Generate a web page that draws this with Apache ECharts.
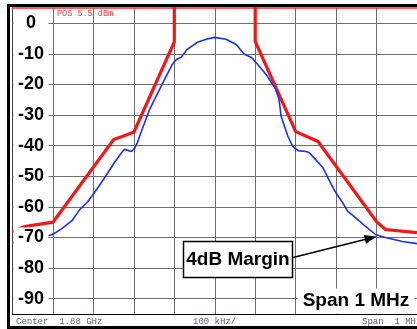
<!DOCTYPE html>
<html>
<head>
<meta charset="utf-8">
<script src="https://cdn.jsdelivr.net/npm/echarts@6/dist/echarts.min.js"></script>
<style>
  html, body { margin: 0; padding: 0; background: #fff; }
  #chart { width: 417px; height: 329px; }
</style>
</head>
<body>
<div id="chart"></div>
<script>
// Spectrum mask (red) and measured spectrum (blue), offset from 1.88 GHz centre, kHz.
// The mask is open above the in-band edges, so its in-band points sit off the top of the scale.
const maskFreqKHz = [-500, -470, -400, -250, -200, -100, -100, 100, 100, 200, 255, 400, 422, 500];
const maskLevelDb = [-68.1, -66.4, -65.0, -38.0, -35.6, -6.1, 40, 40, -5.9, -35.4, -38.6, -64.8, -67.4, -68.4];

const traceFreqKHz = [-500, -450, -402, -378, -353, -334, -314, -292, -267, -248, -230, -223, -206, -198,
  -191, -186, -161, -124, -105, -95, -83, -68, -43, -21, -1, 28, 53, 73, 90, 102, 127, 151, 159, 164,
  181, 193, 206, 225, 233, 245, 267, 282, 299, 316, 329, 348, 373, 398, 422, 464, 500];
const traceLevelDb = [-71.7, -70.6, -69.1, -67.1, -64.5, -60.9, -58.3, -54.3, -49.4, -45.5, -42.2, -41.2, -41.9, -40.9,
  -38.9, -37.0, -28.1, -18.3, -13.4, -11.8, -11.1, -8.5, -6.2, -5.2, -4.6, -5.2, -6.9, -10.1, -11.1, -12.8, -16.7, -21.6, -24.9, -30.4,
  -37.0, -40.3, -41.6, -41.9, -42.2, -43.9, -47.1, -51.1, -55.3, -58.6, -61.5, -63.5, -66.4, -69.1, -70.0, -71.3, -72.0];

const levelTicks = [0, -10, -20, -30, -40, -50, -60, -70, -80, -90];

// Margin annotation: arrow from the label box to the trace
const marginFrom = [191, -76.6];
const marginTo = [400, -69.7];

const zip = (xs, ys) => xs.map((x, i) => [x, ys[i]]);

const chart = echarts.init(document.getElementById('chart'), null, { renderer: 'canvas' });

const gridColor = '#6e6e6e';
const monoFont = '"Liberation Mono", "DejaVu Sans Mono", monospace';
const boldFont = 'bold 19px "Liberation Sans", Arial, sans-serif';

const staticGraphics = [
  {
    type: 'rect', z: 50, silent: true,
    shape: { x: 8.5, y: 5.5, width: 426, height: 322 },
    style: { fill: 'none', stroke: '#000', lineWidth: 3 }
  },
  {
    type: 'text', z: 60, silent: true, x: 57, y: 13.5,
    style: { text: 'POS 5.5 dBm', font: '8.5px ' + monoFont, fill: '#ff3b3b', verticalAlign: 'middle' }
  },
  {
    type: 'text', z: 60, silent: true, x: 16, y: 322,
    style: { text: 'Center  1.88 GHz', font: '9px ' + monoFont, fill: '#5a6480', verticalAlign: 'middle' }
  },
  {
    type: 'text', z: 60, silent: true, x: 193, y: 322,
    style: { text: '100 kHz/', font: '9px ' + monoFont, fill: '#5a6480', verticalAlign: 'middle' }
  },
  {
    type: 'text', z: 60, silent: true, x: 362, y: 322,
    style: { text: 'Span  1 MHz', font: '9px ' + monoFont, fill: '#5a6480', verticalAlign: 'middle' }
  },
  {
    type: 'text', z: 60, silent: true, x: 356, y: 301,
    style: {
      text: 'Span 1 MHz', font: boldFont, fill: '#000',
      align: 'center', verticalAlign: 'middle',
      backgroundColor: '#fff', padding: [3, 5]
    }
  },
  {
    type: 'rect', z: 60, silent: true,
    shape: { x: 183.5, y: 241.5, width: 109, height: 36 },
    style: { fill: '#fff', stroke: '#000', lineWidth: 1.5 }
  },
  {
    type: 'text', z: 61, silent: true, x: 238, y: 260,
    style: { text: '4dB Margin', font: boldFont, fill: '#000', align: 'center', verticalAlign: 'middle' }
  }
];

chart.setOption({
  animation: false,
  backgroundColor: '#fff',
  grid: { left: 12.5, top: 8, right: -1.5, bottom: 15, containLabel: false },
  xAxis: [
    {
      type: 'value', min: -500, max: 500, interval: 100, position: 'bottom',
      axisLine: { show: true, onZero: false, lineStyle: { color: '#000', width: 1 } },
      axisTick: { show: false }, axisLabel: { show: false },
      splitLine: { show: true, lineStyle: { color: gridColor, width: 1 } }
    },
    {
      type: 'value', min: -500, max: 500, position: 'top',
      axisLine: { show: true, onZero: false, lineStyle: { color: '#ff2a2a', width: 1.5 } },
      axisTick: { show: false }, axisLabel: { show: false }, splitLine: { show: false }
    }
  ],
  yAxis: [
    {
      type: 'value', min: -95, max: 5, position: 'left',
      axisLine: { show: true, onZero: false, lineStyle: { color: '#444', width: 1 } },
      axisTick: { show: false, customValues: levelTicks },
      axisLabel: { show: false },
      splitLine: { show: true, lineStyle: { color: gridColor, width: 1 } }
    },
    {
      type: 'value', min: -95, max: 5, position: 'left', z: 10,
      axisLine: { show: false }, axisTick: { show: false }, splitLine: { show: false },
      axisLabel: {
        show: true, inside: true, customValues: levelTicks,
        margin: 18.5, align: 'center', verticalAlign: 'middle',
        width: 31, padding: [1, 2],
        backgroundColor: '#fff', color: '#000',
        fontFamily: '"Liberation Sans", Arial, sans-serif', fontWeight: 'bold', fontSize: 18,
        formatter: v => String(v)
      }
    }
  ],
  series: [
    {
      name: 'Mask', type: 'line', data: zip(maskFreqKHz, maskLevelDb),
      showSymbol: false, symbol: 'none', z: 3, clip: true,
      lineStyle: { color: '#f01818', width: 3.2, join: 'miter' }
    },
    {
      name: 'Spectrum', type: 'line', data: zip(traceFreqKHz, traceLevelDb),
      showSymbol: false, symbol: 'none', z: 4,
      lineStyle: { color: '#1c32e8', width: 1.6 }
    }
  ],
  graphic: staticGraphics
});

// Arrow from the "4dB Margin" box to the trace, placed through the axes' scales
const p0 = chart.convertToPixel({ gridIndex: 0 }, marginFrom);
const p1 = chart.convertToPixel({ gridIndex: 0 }, marginTo);
const ang = Math.atan2(p1[1] - p0[1], p1[0] - p0[0]);
const headLen = 12, headHalf = 4.5;
const bx = p1[0] - headLen * Math.cos(ang), by = p1[1] - headLen * Math.sin(ang);
const nx = -Math.sin(ang) * headHalf, ny = Math.cos(ang) * headHalf;

chart.setOption({
  graphic: staticGraphics.concat([
    {
      type: 'line', z: 70, silent: true,
      shape: { x1: p0[0], y1: p0[1], x2: bx, y2: by },
      style: { stroke: '#000', lineWidth: 1.5 }
    },
    {
      type: 'polygon', z: 70, silent: true,
      shape: { points: [[p1[0], p1[1]], [bx + nx, by + ny], [bx - nx, by - ny]] },
      style: { fill: '#000' }
    }
  ])
}, { replaceMerge: ['graphic'] });
</script>
</body>
</html>
